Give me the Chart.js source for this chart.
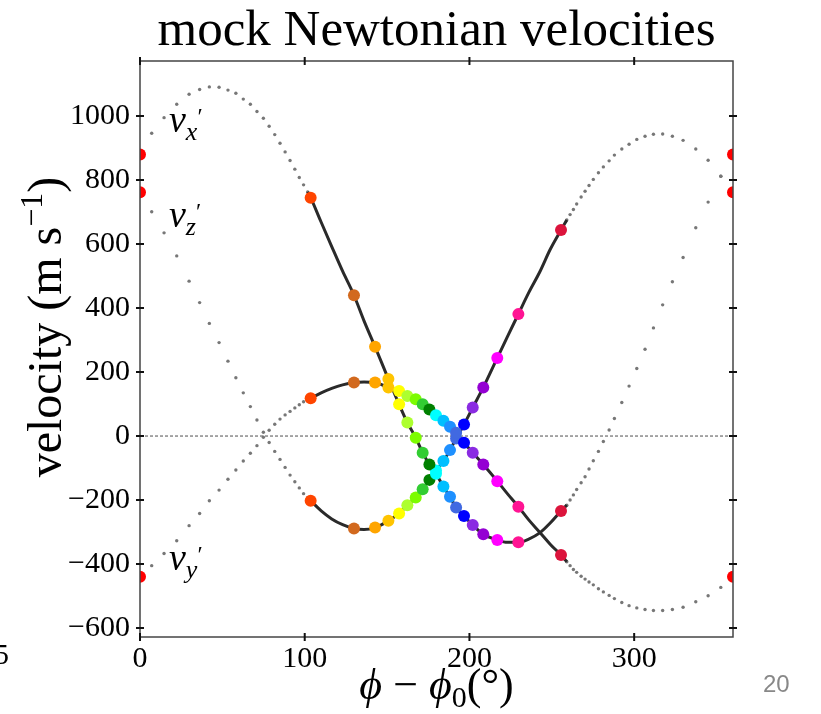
<!DOCTYPE html>
<html>
<head>
<meta charset="utf-8">
<title>mock Newtonian velocities</title>
<script src="https://cdn.jsdelivr.net/npm/chart.js@4.4.1/dist/chart.umd.min.js"></script>
<style>
  html, body { margin: 0; padding: 0; background: #fff; }
  canvas { display: block; }
</style>
</head>
<body>
<canvas id="velChart" width="821" height="714"></canvas>
<script>
// model curve, sparse part (samples far from periastron, drawn as small grey dots)
var modelPhase = [0, 7.1, 14.6, 22.3, 29.8, 36.2, 42.1, 48.0, 53.4, 58.2, 62.7, 67.0, 71.0, 74.9, 78.4, 81.8,
    85.0, 88.1, 91.1, 94.0, 96.7, 99.3, 101.8,
    259.1, 261.1, 263.1, 265.1, 267.8, 270.2, 272.6, 275.2, 278.3, 281.3, 284.8, 288.0, 292.5, 296.9,
    301.6, 306.6, 311.7, 317.3, 323.2, 329.7, 337.4, 344.9, 352.6, 360];
var modelVx = [880, 946, 995, 1037, 1068, 1083, 1091, 1090, 1081, 1071, 1053, 1037, 1014, 993, 968, 942,
    915, 888, 861, 834, 808, 785, 763,
    -216, -200, -184, -167, -146, -127, -103, -77, -48, -17, 19, 55, 105, 156,
    211, 271, 338, 410, 482, 558, 651, 731, 812, 880];
var modelVy = [-440, -405, -367, -327, -280, -242, -202, -169, -135, -106, -78, -54, -30, -4, 18, 37,
    53, 66, 77, 88, 98, 107, 113,
    -393, -405, -417, -426, -438, -447, -456, -465, -477, -487, -498, -508, -520, -530,
    -537, -542, -545, -545, -542, -535, -518, -499, -473, -440];
var modelVz = [762, 701, 635, 563, 484, 417, 352, 292, 234, 182, 135, 92, 50, 12, -20, -48,
    -73, -98, -122, -143, -162, -180, -193,
    675, 692, 708, 725, 747, 765, 783, 802, 823, 841, 860, 878, 897, 912,
    927, 937, 943, 944, 937, 924, 897, 862, 812, 762];

// model curve near periastron, where the dots merge into a solid line
var densePhase = [101.8, 103.6, 110.0, 116.4, 123.0, 129.9, 136.0, 142.7, 150.8, 157.3, 162.3, 167.4, 171.6,
    175.7, 179.7, 184.2, 188.2, 191.9, 196.7, 202.0, 208.4, 216.9, 223.0, 229.7, 236.0, 242.9, 249.0, 255.6, 259.1];
var denseVx = [763, 745, 668, 592, 515, 440, 360, 279, 178, 99, 42, -5, -52,
    -89, -118, -158, -190, -223, -250, -278, -307, -325, -332, -332, -322, -302, -272, -234, -216];
var denseVy = [113, 118, 135, 149, 160, 167, 169, 167, 152, 141, 125, 115, 99,
    83, 65, 48, 29, 10, -21, -52, -89, -141, -180, -221, -262, -302, -338, -372, -393];
var denseVz = [-193, -202, -234, -259, -277, -289, -292, -286, -265, -242, -216, -192, -166,
    -137, -108, -78, -44, -8, 36, 89, 152, 244, 310, 381, 448, 515, 583, 644, 675];

// observation epochs, coloured by time
var obsPhase = [0, 103.6, 129.9, 142.7, 150.8, 157.3, 162.3, 167.4, 171.6, 175.7, 179.7,
    184.2, 188.2, 191.9, 196.7, 202.0, 208.4, 216.9, 229.7, 255.6, 360];
var obsVx = [880, 745, 440, 279, 178, 99, 42, -5, -52, -89, -118,
    -158, -190, -223, -250, -278, -307, -325, -332, -234, 880];
var obsVy = [-440, 118, 167, 167, 152, 141, 125, 115, 99, 83, 65,
    48, 29, 10, -21, -52, -89, -141, -221, -372, -440];
var obsVz = [762, -202, -289, -286, -265, -242, -216, -192, -166, -137, -108,
    -78, -44, -8, 36, 89, 152, 244, 381, 644, 762];
var obsColors = ['#ff0000', '#ff4500', '#d2691e', '#ffa500', '#ffc400', '#ffff00', '#adff2f', '#7cfc00',
    '#32cd32', '#008000', '#00ffff', '#00bfff', '#1e90ff', '#4169e1', '#0000ff', '#8a2be2', '#9400d3',
    '#ff00ff', '#ff1493', '#dc143c', '#ff0000'];

// tick labels
var xTicks = [0, 100, 200, 300];
var yTicks = [-600, -400, -200, 0, 200, 400, 600, 800, 1000];

var SERIF = '"Liberation Serif", "Times New Roman", serif';

function pts(xs, ys) {
    return xs.map(function (x, i) { return { x: x, y: ys[i] }; });
}

function runsWidth(ctx, runs) {
    var w = 0;
    runs.forEach(function (r) { ctx.font = r.font; w += ctx.measureText(r.t).width; });
    return w;
}
function drawRuns(ctx, runs, x, y) {
    runs.forEach(function (r) {
        ctx.font = r.font;
        ctx.fillText(r.t, x, y + (r.dy || 0));
        x += ctx.measureText(r.t).width;
    });
}

var decorations = {
    id: 'decorations',
    afterDraw: function (chart) {
        var ctx = chart.ctx, a = chart.chartArea;
        var xs = chart.scales.x, ys = chart.scales.y;
        ctx.save();

        // frame
        ctx.strokeStyle = '#444';
        ctx.lineWidth = 1.5;
        ctx.strokeRect(a.left, a.top, a.right - a.left, a.bottom - a.top);

        // tick marks crossing the frame on all four sides
        ctx.strokeStyle = '#111';
        ctx.lineWidth = 2;
        ctx.beginPath();
        xTicks.forEach(function (v) {
            var px = xs.getPixelForValue(v);
            ctx.moveTo(px, a.bottom - 4); ctx.lineTo(px, a.bottom + 4);
            ctx.moveTo(px, a.top - 4); ctx.lineTo(px, a.top + 4);
        });
        yTicks.forEach(function (v) {
            var py = ys.getPixelForValue(v);
            ctx.moveTo(a.left - 4, py); ctx.lineTo(a.left + 4, py);
            ctx.moveTo(a.right - 4, py); ctx.lineTo(a.right + 4, py);
        });
        ctx.stroke();

        ctx.fillStyle = '#000';
        ctx.textBaseline = 'alphabetic';

        // title
        ctx.textAlign = 'center';
        ctx.font = '51px ' + SERIF;
        ctx.fillText('mock Newtonian velocities', (a.left + a.right) / 2, 45);

        ctx.textAlign = 'left';

        // x axis label
        var xl = [
            { t: '\u03d5', font: 'italic 44px ' + SERIF },
            { t: ' \u2212 ', font: '44px ' + SERIF },
            { t: '\u03d5', font: 'italic 44px ' + SERIF },
            { t: '0', font: '30px ' + SERIF, dy: 8 },
            { t: '(\u00b0)', font: '44px ' + SERIF }
        ];
        drawRuns(ctx, xl, (a.left + a.right) / 2 - runsWidth(ctx, xl) / 2, 699);

        // y axis label, rotated
        var yl = [
            { t: 'velocity (m s', font: '48px ' + SERIF },
            { t: '\u22121', font: '32px ' + SERIF, dy: -19 },
            { t: ')', font: '48px ' + SERIF }
        ];
        ctx.save();
        ctx.translate(61, (a.top + a.bottom) / 2 - 22);
        ctx.rotate(-Math.PI / 2);
        drawRuns(ctx, yl, -runsWidth(ctx, yl) / 2, 0);
        ctx.restore();

        // curve labels v_x', v_z', v_y'
        [['x', 17.6, 950], ['z', 17.6, 653], ['y', 17.6, -419]].forEach(function (l) {
            var px = xs.getPixelForValue(l[1]), py = ys.getPixelForValue(l[2]);
            drawRuns(ctx, [
                { t: 'v', font: 'italic 38px ' + SERIF },
                { t: l[0], font: 'italic 26px ' + SERIF, dy: 8 },
                { t: '\u2032', font: '24px ' + SERIF, dy: -8 }
            ], px, py);
        });

        // stray slide text around the figure
        ctx.font = '30px ' + SERIF;
        ctx.fillText('5', -6, 664);
        ctx.fillStyle = '#888';
        ctx.font = '24px "Liberation Sans", Arial, sans-serif';
        ctx.fillText('20', 763, 692);

        ctx.restore();
    }
};

document.addEventListener('DOMContentLoaded', function () {
    var ctx = document.getElementById('velChart').getContext('2d');

    var obsStyle = function (data) {
        return {
            data: data,
            showLine: false,
            pointRadius: 6,
            pointBackgroundColor: obsColors,
            pointBorderWidth: 0,
            clip: 0,
            order: 0
        };
    };
    var denseStyle = function (data) {
        return {
            data: data,
            showLine: true,
            borderColor: '#2a2a2a',
            borderWidth: 3,
            pointRadius: 0,
            cubicInterpolationMode: 'monotone',
            order: 1
        };
    };
    var modelStyle = function (data) {
        return {
            data: data,
            showLine: false,
            pointRadius: 1.7,
            pointBackgroundColor: '#777',
            pointBorderWidth: 0,
            clip: 0,
            order: 2
        };
    };

    new Chart(ctx, {
        type: 'scatter',
        data: {
            datasets: [
                obsStyle(pts(obsPhase, obsVx)),
                obsStyle(pts(obsPhase, obsVy)),
                obsStyle(pts(obsPhase, obsVz)),
                denseStyle(pts(densePhase, denseVx)),
                denseStyle(pts(densePhase, denseVy)),
                denseStyle(pts(densePhase, denseVz)),
                modelStyle(pts(modelPhase, modelVx)),
                modelStyle(pts(modelPhase, modelVy)),
                modelStyle(pts(modelPhase, modelVz)),
                {
                    data: [{ x: 0, y: 0 }, { x: 360, y: 0 }],
                    showLine: true,
                    borderColor: '#222',
                    borderWidth: 0.8,
                    borderDash: [3, 2],
                    pointRadius: 0,
                    order: 3
                }
            ]
        },
        options: {
            responsive: false,
            animation: false,
            layout: { padding: { top: 61, right: 88, left: 0, bottom: 0 } },
            plugins: {
                legend: { display: false },
                tooltip: { enabled: false }
            },
            scales: {
                x: {
                    type: 'linear',
                    min: 0,
                    max: 360,
                    grid: { display: false, drawTicks: false },
                    border: { display: false },
                    afterBuildTicks: function (s) {
                        s.ticks = xTicks.map(function (v) { return { value: v }; });
                    },
                    ticks: {
                        maxRotation: 0,
                        padding: 4,
                        color: '#000',
                        font: { family: SERIF, size: 30 }
                    },
                    afterFit: function (s) { s.height = 77; }
                },
                y: {
                    min: -628,
                    max: 1172,
                    grid: { display: false, drawTicks: false },
                    border: { display: false },
                    afterBuildTicks: function (s) {
                        s.ticks = yTicks.map(function (v) { return { value: v }; });
                    },
                    ticks: {
                        padding: 10,
                        color: '#000',
                        font: { family: SERIF, size: 30 },
                        callback: function (v) { return v < 0 ? '\u2212' + Math.abs(v) : String(v); }
                    },
                    afterFit: function (s) { s.width = 140; }
                }
            }
        },
        plugins: [decorations]
    });
});
</script>
</body>
</html>
